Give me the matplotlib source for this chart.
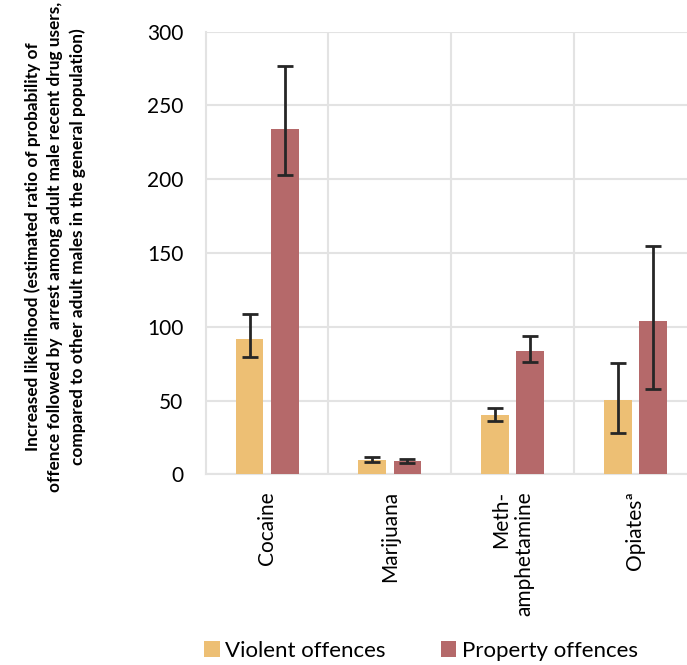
import matplotlib
matplotlib.use("Agg")
import matplotlib.pyplot as plt
import numpy as np

categories = ["Cocaine", "Marijuana", "Meth-\namphetamine", "Opiates\u00aa"]
violent = [91.7, 9.7, 40.0, 50.6]
violent_low = [79.3, 8.3, 36.1, 28.0]
violent_high = [108.4, 11.9, 44.9, 75.4]
property_ = [234.2, 8.8, 83.6, 104.1]
property_low = [203.1, 7.4, 75.9, 57.8]
property_high = [276.5, 10.4, 93.7, 154.9]
yticks = [0, 50, 100, 150, 200, 250, 300]

plt.rcParams['font.family'] = ['Lato', 'DejaVu Sans']

fig = plt.figure(figsize=(6.87, 6.65), dpi=100)
ax = fig.add_axes([0.2994, 0.2868, 0.7006, 0.6655])

x = np.arange(len(categories))
w = 0.226
off = 0.143
v = np.array(violent); p = np.array(property_)
verr = [v - np.array(violent_low), np.array(violent_high) - v]
perr = [p - np.array(property_low), np.array(property_high) - p]

ax.bar(x - off, v, w, color="#EDBF74", label="Violent offences", zorder=3)
ax.bar(x + off, p, w, color="#B5696A", label="Property offences", zorder=3)
ekw = dict(ecolor="#262626", elinewidth=2, capsize=5.5, capthick=2, fmt="none", zorder=4)
ax.errorbar(x - off, v, yerr=verr, **ekw)
ax.errorbar(x + off, p, yerr=perr, **ekw)

ax.set_xlim(-0.5, 3.42)
ax.set_ylim(0, 300)
ax.set_yticks(yticks)
ax.set_yticklabels([str(t) for t in yticks], fontsize=15, color="#000000")
ax.set_xticks(x)
ax.set_xticklabels(categories, rotation=90, fontsize=15, color="#000000",
                   va="top", ha="center", multialignment="right")
ax.set_xticks([0.5, 1.5, 2.5], minor=True)
ax.tick_params(axis="both", which="both", length=0)
ax.tick_params(axis="x", pad=12)
ax.tick_params(axis="y", pad=16)
ax.grid(axis="y", which="major", color="#e3e3e3", lw=1.5, zorder=0)
ax.grid(axis="x", which="minor", color="#e3e3e3", lw=1.5, zorder=0)
for s in ["top", "right"]:
    ax.spines[s].set_visible(False)
for s in ["left", "bottom"]:
    ax.spines[s].set_color("#e3e3e3")
    ax.spines[s].set_linewidth(1.5)

fig.text(55 / 687, 1 - 247 / 665,
         "Increased likelihood (estimated ratio of probability of\n"
         "offence followed by  arrest among adult male recent drug users,\n"
         "compared to other adult males in the general population)",
         rotation=90, ha="center", va="center", multialignment="center",
         fontsize=12.4, fontweight="bold", color="#000000", linespacing=1.45)

leg = fig.legend(loc="lower left", bbox_to_anchor=(0.275, -0.017), ncol=2, frameon=False,
                 fontsize=16, handlelength=0.68, handleheight=0.68, handletextpad=0.25,
                 columnspacing=2.5, borderaxespad=0.3)
for t in leg.get_texts():
    t.set_color("#000000")

fig.savefig("out.png", dpi=100)
